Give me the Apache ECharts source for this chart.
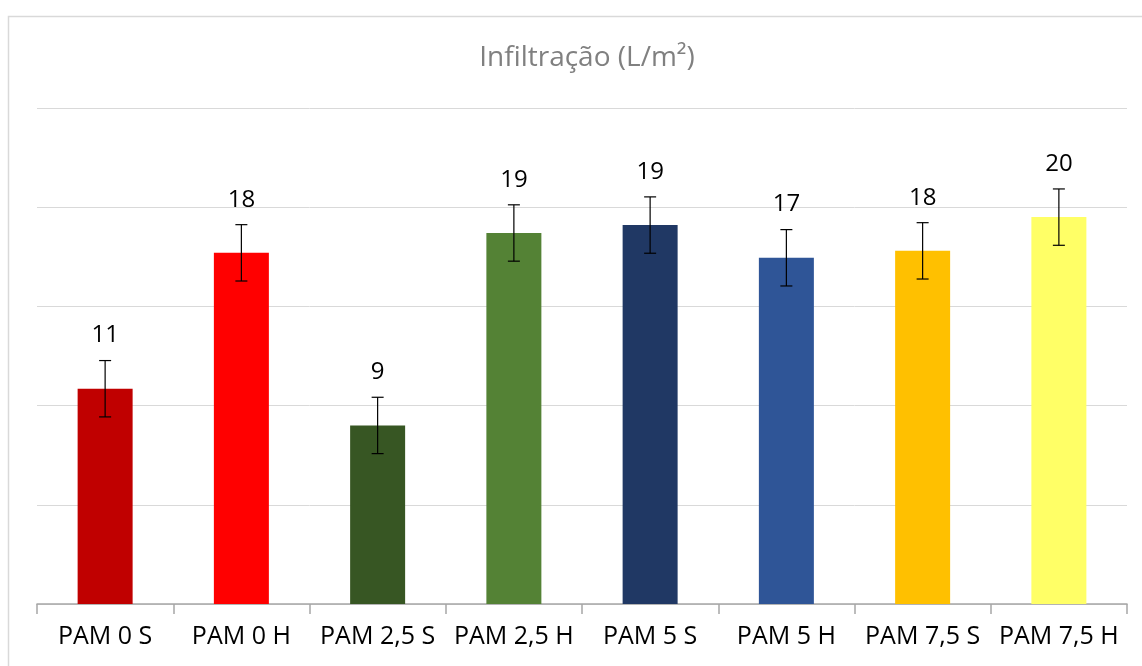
<!DOCTYPE html>
<html>
<head>
<meta charset="utf-8">
<title>Infiltração</title>
<script src="https://cdn.jsdelivr.net/npm/echarts@6/dist/echarts.min.js"></script>
<style>
  html, body { margin: 0; padding: 0; background: #fff; }
  #chart { width: 1142px; height: 666px; }
</style>
</head>
<body>
<div id="chart"></div>
<script>
// categorias e valores
const categories = ['PAM 0 S', 'PAM 0 H', 'PAM 2,5 S', 'PAM 2,5 H', 'PAM 5 S', 'PAM 5 H', 'PAM 7,5 S', 'PAM 7,5 H'];
const infiltration = [10.85, 17.7, 9.0, 18.7, 19.1, 17.45, 17.8, 19.5];
const errors = [1.42, 1.42, 1.42, 1.42, 1.42, 1.42, 1.42, 1.42];
const barColors = ['#C00000', '#FF0000', '#375623', '#548235', '#203864', '#2F5597', '#FFC000', '#FFFF66'];

const chart = echarts.init(document.getElementById('chart'));

// barra de erro + rótulo do valor acima dela
function renderErrorBar(params, api) {
  const idx = api.value(0);
  const val = api.value(1);
  const err = api.value(2);
  const top = api.coord([idx, val + err]);
  const bottom = api.coord([idx, val - err]);
  const cap = 6;
  const lineStyle = { stroke: '#000', lineWidth: 1.2 };
  return {
    type: 'group',
    children: [
      { type: 'line', shape: { x1: top[0], y1: top[1], x2: bottom[0], y2: bottom[1] }, style: lineStyle },
      { type: 'line', shape: { x1: top[0] - cap, y1: top[1], x2: top[0] + cap, y2: top[1] }, style: lineStyle },
      { type: 'line', shape: { x1: bottom[0] - cap, y1: bottom[1], x2: bottom[0] + cap, y2: bottom[1] }, style: lineStyle },
      {
        type: 'text',
        x: top[0],
        y: top[1] - 13,
        style: {
          text: String(Math.round(val)),
          fill: '#000',
          font: '24px "Open Sans"',
          align: 'center',
          verticalAlign: 'bottom',
        },
      },
    ],
  };
}

const options = {
  animation: false,
  title: {
    text: 'Infiltração (L/m²)',
    left: 582,
    top: 39,
    textAlign: 'center',
    textStyle: {
      fontFamily: 'Open Sans',
      fontSize: 28,
      fontWeight: 'normal',
      color: '#808080',
    },
  },
  // moldura cinza do gráfico
  graphic: [
    {
      type: 'rect',
      silent: true,
      shape: { x: 8.5, y: 16.5, width: 1200, height: 700 },
      style: { fill: 'none', stroke: '#d9d9d9', lineWidth: 1.5 },
    },
  ],
  grid: {
    left: 37,
    right: 15,
    top: 108,
    bottom: 62,
    containLabel: false,
  },
  xAxis: {
    type: 'category',
    data: categories,
    axisLine: { lineStyle: { color: '#a6a6a6', width: 1.5 } },
    axisTick: { show: true, length: 10, lineStyle: { color: '#a6a6a6', width: 1.5 } },
    axisLabel: {
      interval: 0,
      margin: 20,
      color: '#000',
      fontFamily: 'Open Sans',
      fontSize: 25,
    },
  },
  yAxis: {
    type: 'value',
    min: 0,
    max: 25,
    interval: 5,
    axisLabel: { show: false },
    axisLine: { show: false },
    axisTick: { show: false },
    splitLine: { lineStyle: { color: '#d9d9d9', width: 1 } },
  },
  series: [
    {
      name: 'Infiltração',
      type: 'bar',
      barWidth: 55,
      data: infiltration.map((v, i) => ({ value: v, itemStyle: { color: barColors[i] } })),
    },
    {
      name: 'Erro',
      type: 'custom',
      renderItem: renderErrorBar,
      encode: { x: 0, y: 1 },
      z: 3,
      data: infiltration.map((v, i) => [i, v, errors[i]]),
    },
  ],
};

chart.setOption(options);
</script>
</body>
</html>
